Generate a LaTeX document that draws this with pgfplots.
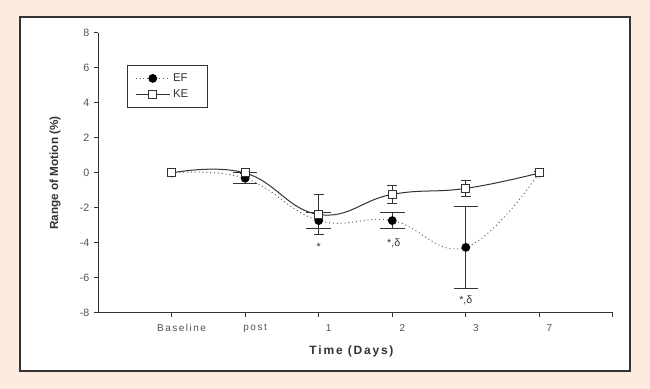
\documentclass[border=0pt]{standalone}
\usepackage{pgfplots}
\pgfplotsset{compat=1.18}
\usepackage{fontspec}
\setmainfont{Liberation Sans}
\definecolor{peach}{HTML}{FDEBDF}
\definecolor{ink}{HTML}{333333}
\begin{document}
\begin{tikzpicture}
\fill[peach] (0,0) rectangle (487.5pt,291.75pt);
\filldraw[fill=white, draw=ink, line width=1.1pt] (15pt,13.5pt) rectangle (472.5pt,279pt);
\begin{axis}[
  at={(73.5pt,57pt)}, anchor=south west,
  width=386.25pt, height=210pt, scale only axis,
  xmin=-1, xmax=6, ymin=-8, ymax=8,
  axis x line=bottom, axis y line=left,
  axis line style={-, ink, line width=0.75pt},
  xtick={0,...,6}, xticklabels={Baseline,post,1,2,3,7,},
  ytick={-8,-6,...,8},
  tick align=outside, major tick length=3pt,
  tick style={ink, line width=0.75pt},
  /pgf/number format/assume math mode=true,
  yticklabel style={font=\fontsize{8}{9}\selectfont, text=ink!85},
  xticklabel style={xshift=7.5pt, yshift=-2pt, text=ink!85, font=\fontsize{7.5}{9}\selectfont\addfontfeature{LetterSpace=15}},
  ylabel={Range of Motion (\%)},
  ylabel style={at={(axis description cs:-0.0835,0.5)}, anchor=center, font=\fontsize{8.8}{10}\selectfont\bfseries, text=ink},
  xlabel={Time (Days)},
  xlabel style={at={(axis description cs:0.5,0)}, yshift=-28.5pt, xshift=-3pt, anchor=center, font=\fontsize{9}{10}\selectfont\bfseries\addfontfeature{LetterSpace=15}, text=ink},
  legend style={at={(axis cs:-0.61,6.17)}, anchor=north west, draw=ink, line width=0.75pt,
    font=\fontsize{8.5}{10}\selectfont, text=ink, inner xsep=6pt, inner ysep=4pt, row sep=1pt},
  legend cell align=left,
  legend image code/.code={\draw[mark repeat=2,mark phase=2,#1] plot coordinates {(0cm,0cm)(0.45cm,0cm)(0.9cm,0cm)};},
  clip=false,
]
% error bars EF (wide caps)
\addplot[only marks, mark=none, forget plot,
  error bars/.cd, y dir=both, y explicit,
  error bar style={ink, line width=0.75pt, solid},
  error mark options={ink, line width=0.75pt, mark size=9.2pt, rotate=90}]
  coordinates {(1,-0.30) +- (0,0.30) (2,-2.72) +- (0,0.47) (3,-2.72) +- (0,0.47) (4,-4.25) +- (0,2.36)};
% error bars KE (narrow caps)
\addplot[only marks, mark=none, forget plot,
  error bars/.cd, y dir=both, y explicit,
  error bar style={ink, line width=0.75pt, solid},
  error mark options={ink, line width=0.75pt, mark size=3.8pt, rotate=90}]
  coordinates {(1,0) +- (0,0.05) (2,-2.37) +- (0,1.15) (3,-1.22) +- (0,0.50) (4,-0.88) +- (0,0.45) (5,0) +- (0,0.1)};
% EF
\addplot[ink!80, line width=0.75pt, smooth, tension=0.7, dash pattern=on 0.7pt off 2.2pt,
  mark=*, mark size=2.9pt, mark options={solid, fill=black, draw=black}]
  coordinates {(0,0) (1,-0.30) (2,-2.72) (3,-2.72) (4,-4.25) (5,0)};
\addlegendentry{\makebox[18pt][l]{EF}}
% KE
\addplot[ink, line width=0.75pt, smooth, tension=0.75,
  mark=square*, mark size=3pt, mark options={solid, fill=white, draw=ink}]
  coordinates {(0,0) (1,0) (2,-2.37) (3,-1.22) (4,-0.88) (5,0)};
\addlegendentry{\makebox[18pt][l]{KE}}
\node[font=\fontsize{8}{9}\selectfont, text=ink] at (axis cs:2,-4.2) {*};
\node[font=\fontsize{8}{9}\selectfont, text=ink] at (axis cs:3.02,-4.0) {*,δ};
\node[font=\fontsize{8}{9}\selectfont, text=ink] at (axis cs:4.0,-7.25) {*,δ};
\end{axis}
\useasboundingbox (0,0) rectangle (487.5pt,291.75pt);
\end{tikzpicture}
\end{document}
